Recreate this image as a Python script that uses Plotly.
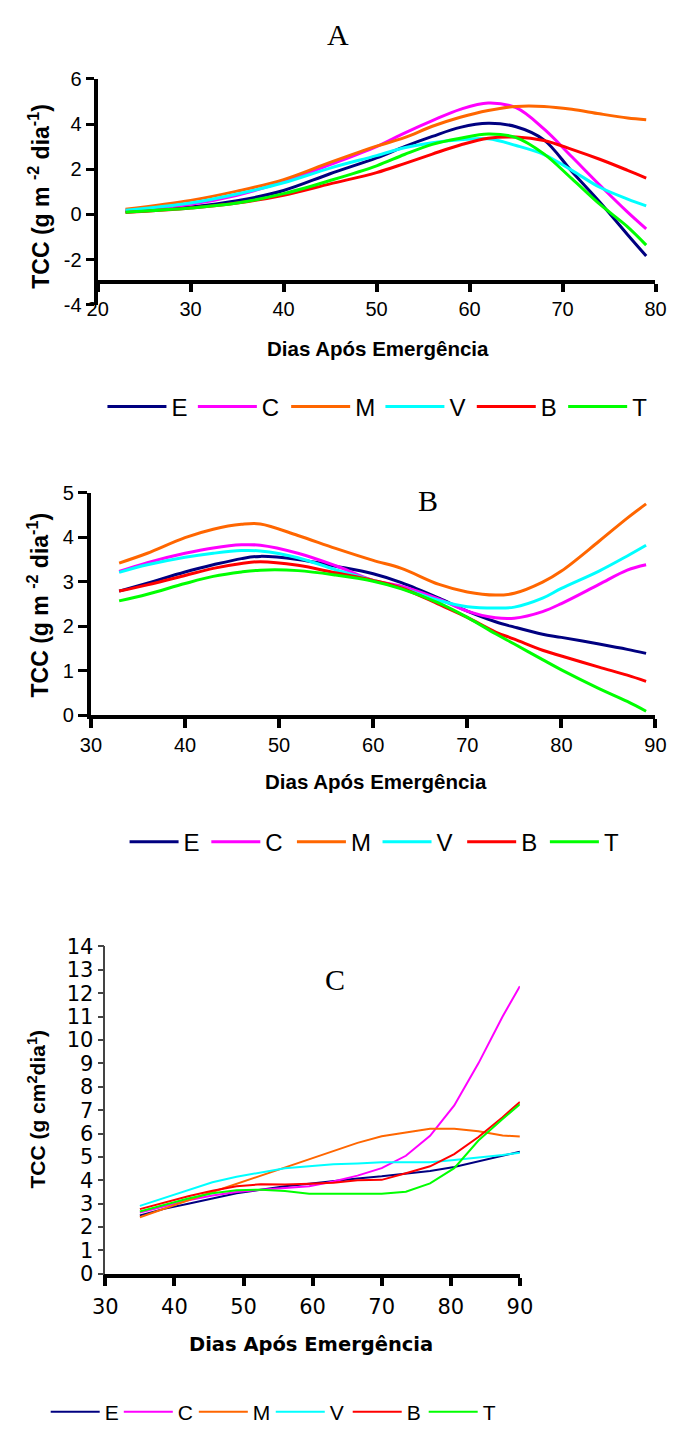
import plotly.graph_objects as go

# ---------------- data ----------------
series = ["E", "C", "M", "V", "B", "T"]
colors = ["#000080", "#FF00FF", "#FF6600", "#00FFFF", "#FF0000", "#00FF00"]

# Panel A
days_a = [23, 30, 35, 40, 45, 50, 53, 56, 59, 62, 65, 68, 71, 74, 77, 79]
a_E = [0.13, 0.33, 0.60, 1.06, 1.80, 2.50, 3.00, 3.45, 3.85, 4.03, 3.88, 3.30, 1.90, 0.55, -0.90, -1.84]
a_C = [0.18, 0.45, 0.85, 1.45, 2.20, 3.00, 3.60, 4.15, 4.65, 4.93, 4.72, 3.78, 2.55, 1.30, 0.10, -0.64]
a_M = [0.23, 0.62, 1.03, 1.54, 2.30, 3.02, 3.40, 3.90, 4.30, 4.60, 4.78, 4.78, 4.65, 4.45, 4.27, 4.19]
a_V = [0.18, 0.50, 0.90, 1.40, 2.05, 2.60, 2.95, 3.17, 3.30, 3.35, 3.05, 2.65, 1.95, 1.20, 0.68, 0.38]
a_B = [0.08, 0.28, 0.50, 0.85, 1.35, 1.85, 2.25, 2.67, 3.07, 3.37, 3.42, 3.27, 2.88, 2.44, 1.95, 1.61]
a_T = [0.10, 0.28, 0.50, 0.92, 1.50, 2.15, 2.65, 3.10, 3.37, 3.56, 3.40, 2.68, 1.58, 0.45, -0.55, -1.36]
a_yticks = [-4, -2, 0, 2, 4, 6]
a_yticktext = ["-4", "-2", "0", "2", "4", "6"]

# Panel B
days_b = [33, 36, 40, 43, 46, 48, 52, 56, 60, 63, 67, 70, 73, 75, 78, 80, 84, 87, 89]
b_E = [2.79, 2.97, 3.22, 3.38, 3.52, 3.57, 3.50, 3.35, 3.18, 2.98, 2.63, 2.34, 2.10, 1.98, 1.82, 1.75, 1.60, 1.48, 1.39]
b_C = [3.23, 3.43, 3.64, 3.76, 3.83, 3.82, 3.64, 3.36, 3.03, 2.90, 2.61, 2.34, 2.19, 2.18, 2.33, 2.51, 2.94, 3.26, 3.38]
b_M = [3.42, 3.64, 3.99, 4.18, 4.29, 4.30, 4.04, 3.75, 3.48, 3.30, 2.94, 2.77, 2.70, 2.74, 2.99, 3.24, 3.91, 4.43, 4.75]
b_V = [3.21, 3.38, 3.55, 3.64, 3.70, 3.69, 3.54, 3.27, 3.03, 2.86, 2.58, 2.44, 2.41, 2.43, 2.63, 2.85, 3.24, 3.58, 3.82]
b_B = [2.79, 2.93, 3.14, 3.30, 3.41, 3.45, 3.37, 3.20, 3.03, 2.86, 2.49, 2.20, 1.87, 1.71, 1.46, 1.33, 1.08, 0.90, 0.76]
b_T = [2.57, 2.72, 2.96, 3.12, 3.22, 3.26, 3.25, 3.15, 3.01, 2.84, 2.52, 2.20, 1.83, 1.60, 1.25, 1.02, 0.60, 0.31, 0.09]

# Panel C
days_c = [35, 38.5, 42, 45.5, 49, 52.5, 56, 59.5, 63, 66.5, 70, 73.5, 77, 80.5, 84, 87.5, 90]
c_E = [2.50, 2.78, 3.00, 3.22, 3.45, 3.60, 3.75, 3.85, 3.97, 4.08, 4.17, 4.28, 4.40, 4.57, 4.82, 5.05, 5.22]
c_C = [2.62, 2.90, 3.15, 3.35, 3.50, 3.60, 3.68, 3.75, 3.95, 4.20, 4.52, 5.05, 5.90, 7.20, 9.00, 11.00, 12.30]
c_M = [2.42, 2.80, 3.15, 3.50, 3.85, 4.20, 4.55, 4.90, 5.28, 5.60, 5.88, 6.05, 6.20, 6.20, 6.10, 5.92, 5.87]
c_V = [2.91, 3.25, 3.60, 3.92, 4.15, 4.35, 4.52, 4.60, 4.69, 4.72, 4.77, 4.77, 4.77, 4.87, 4.97, 5.08, 5.18]
c_B = [2.77, 3.05, 3.32, 3.55, 3.75, 3.83, 3.82, 3.85, 3.90, 4.00, 4.02, 4.30, 4.60, 5.12, 5.85, 6.70, 7.35]
c_T = [2.67, 2.95, 3.22, 3.45, 3.58, 3.60, 3.54, 3.43, 3.43, 3.43, 3.43, 3.51, 3.87, 4.52, 5.70, 6.62, 7.25]

x_title = "Dias Após Emergência"
y_title_ab = "TCC (g m <sup>-2</sup> dia<sup>-1</sup>)"
y_title_c = "TCC (g cm<sup>2</sup>dia<sup>1</sup>)"

# ---------------- geometry helpers ----------------
W, H = 681, 1433


def fx(px):
    return px / W


def fy(py):
    return 1 - py / H


SANS = "Liberation Sans, Arial, sans-serif"
WIDE = "DejaVu Sans, Verdana, sans-serif"
SERIF = "Liberation Serif, Times New Roman, serif"

# one legend per entry so each key sits at its own place in the row
legend_rows = [
    # (left edge of each key line, line length, row centre, font size)
    ([98, 192, 289, 387, 482, 577], 59, 402, 24),
    ([121, 206, 295, 384, 472, 558], 49, 845, 24),
    ([39, 115, 193, 273, 353, 432], 49, 1425, 21),
]

fig = go.Figure()

panels = [
    (days_a, [a_E, a_C, a_M, a_V, a_B, a_T], "x", "y", 3, "spline"),
    (days_b, [b_E, b_C, b_M, b_V, b_B, b_T], "x2", "y2", 3, "spline"),
    (days_c, [c_E, c_C, c_M, c_V, c_B, c_T], "x3", "y3", 2, "linear"),
]
legend_layout = {}
k = 0
for (days, vals, xa, ya, lw, shape), (starts, keylen, rowy, fsize) in zip(panels, legend_rows):
    for name, col, v, x0 in zip(series, colors, vals, starts):
        k += 1
        lid = "legend" if k == 1 else f"legend{k}"
        fig.add_trace(go.Scatter(
            x=days, y=v, name=name, mode="lines",
            line=dict(color=col, width=lw, shape=shape, smoothing=1.0),
            xaxis=xa, yaxis=ya, legend=lid, showlegend=True,
        ))
        legend_layout[lid] = dict(
            orientation="h", x=fx(x0 - 5), y=fy(rowy), xanchor="left", yanchor="middle",
            itemwidth=keylen, font=dict(family=SANS, size=fsize, color="black"),
            bgcolor="rgba(0,0,0,0)", borderwidth=0,
        )
fig.update_layout(**legend_layout)

# ---------------- axes ----------------
tickfont = dict(family=SANS, size=20, color="black")
tickfont_c = dict(family=WIDE, size=21, color="black")

# Panel A: y from -4 to 6, x axis crossing at y = -3
ya_dom = [fy(298), fy(68)]
cross_a = ya_dom[0] + (-3 - (-4)) / (6 - (-4)) * (ya_dom[1] - ya_dom[0])
fig.update_layout(
    xaxis=dict(domain=[fx(88), fx(668)], range=[20, 80], dtick=10, tick0=20,
               anchor="free", position=cross_a,
               showline=True, linewidth=4, linecolor="black",
               ticks="outside", ticklen=8, tickwidth=4, tickcolor="black",
               ticklabelstandoff=0,
               tickfont=tickfont, showgrid=False, zeroline=False),
    yaxis=dict(domain=ya_dom, range=[-4, 6], tickmode="array",
               tickvals=a_yticks, ticktext=a_yticktext, anchor="x",
               showline=True, linewidth=4, linecolor="black",
               ticks="outside", ticklen=8, tickwidth=3, tickcolor="black",
               tickfont=tickfont, showgrid=False, zeroline=False),
    xaxis2=dict(domain=[fx(81), fx(668)], range=[30, 90], dtick=10, tick0=30,
                anchor="y2", showline=True, linewidth=4, linecolor="black",
                ticks="outside", ticklen=9, tickwidth=4, tickcolor="black",
                tickfont=tickfont, showgrid=False, zeroline=False),
    yaxis2=dict(domain=[fy(715.7), fy(489.3)], range=[0, 5], dtick=1, tick0=0,
                anchor="x2", showline=True, linewidth=4, linecolor="black",
                ticks="outside", ticklen=9, tickwidth=3, tickcolor="black",
                tickfont=tickfont, showgrid=False, zeroline=False),
    xaxis3=dict(domain=[fx(96), fx(527)], range=[30, 90], dtick=10, tick0=30,
                anchor="y3", showline=True, linewidth=4, linecolor="black",
                ticks="outside", ticklen=8, tickwidth=4, tickcolor="black",
                ticklabelstandoff=3,
                tickfont=tickfont_c, showgrid=False, zeroline=False),
    yaxis3=dict(domain=[fy(1284.3), fy(951)], range=[0, 14], dtick=1, tick0=0,
                anchor="x3", showline=True, linewidth=1.5, linecolor="#444444",
                ticks="outside", ticklen=6, tickwidth=1.5, tickcolor="#444444",
                tickfont=tickfont_c, showgrid=False, zeroline=False),
)

# ---------------- titles ----------------
ann = []
for txt, x, y in [("A", 338, 23), ("B", 431, 497), ("C", 335, 985)]:
    ann.append(dict(text=txt, x=fx(x), y=fy(y), xref="paper", yref="paper",
                    xanchor="center", yanchor="middle", showarrow=False,
                    font=dict(family=SERIF, size=30, color="black")))
for x, y, fnt in [(379, 342, dict(family=SANS, size=20.5, color="black")),
                  (377, 783, dict(family=SANS, size=20.5, color="black")),
                  (310, 1356, dict(family=WIDE, size=19.5, color="black"))]:
    ann.append(dict(text="<b>" + x_title + "</b>", x=fx(x), y=fy(y), xref="paper",
                    yref="paper", xanchor="center", yanchor="middle", showarrow=False,
                    font=fnt))
for txt, x, y, size in [(y_title_ab, 27, 187, 23), (y_title_ab, 27, 603, 23),
                        (y_title_c, 24, 1117, 21)]:
    ann.append(dict(text="<b>" + txt + "</b>", x=fx(x), y=fy(y), xref="paper",
                    yref="paper", xanchor="center", yanchor="middle", showarrow=False,
                    textangle=-90, font=dict(family=SANS, size=size, color="black")))

fig.update_layout(
    annotations=ann,
    width=W, height=H, autosize=False,
    margin=dict(l=0, r=0, t=0, b=0),
    paper_bgcolor="white", plot_bgcolor="white",
    showlegend=True,
)

fig.write_html("out.html")
